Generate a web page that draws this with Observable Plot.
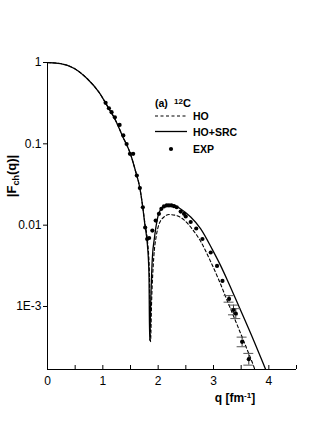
<!DOCTYPE html>
<html><head><meta charset="utf-8">
<script src="https://cdn.jsdelivr.net/npm/d3@7"></script>
<script src="https://cdn.jsdelivr.net/npm/@observablehq/plot@0.6"></script>
<style>body{margin:0;background:#fff;}</style>
</head><body><div id="chart"></div>
<script>
// HO+SRC (solid) curve
const srcQ = [0, 0.235, 0.476, 0.719, 0.929, 1.11, 1.231, 1.352, 1.502, 1.593, 1.671, 1.714, 1.761, 1.805, 1.834, 1.846, 1.866, 1.895, 1.93, 1.96, 2.00, 2.05, 2.136, 2.257, 2.407, 2.588, 2.769, 2.98, 3.131, 3.253, 3.46, 3.734, 3.946, 4.0];
const srcF = [1, 0.970, 0.851, 0.631, 0.432, 0.270, 0.194, 0.126, 0.0741, 0.0457, 0.0282, 0.0182, 0.0100, 0.0058, 0.00251, 0.00038, 0.00117, 0.00398, 0.00676, 0.00955, 0.0132, 0.0158, 0.0175, 0.0178, 0.0158, 0.0126, 0.00902, 0.00501, 0.00316, 0.00209, 0.00100, 0.000372, 0.000166, 0.000135];
// HO (dashed) curve
const hoQ = [0, 0.235, 0.476, 0.719, 0.929, 1.11, 1.231, 1.352, 1.502, 1.593, 1.671, 1.714, 1.761, 1.805, 1.84, 1.862, 1.882, 1.92, 1.964, 2.014, 2.105, 2.195, 2.317, 2.467, 2.615, 2.769, 2.95, 3.10, 3.25, 3.40, 3.584, 3.734, 3.79];
const hoF = [1, 0.970, 0.851, 0.631, 0.432, 0.270, 0.194, 0.126, 0.0741, 0.0457, 0.0282, 0.0182, 0.0105, 0.0066, 0.00282, 0.00037, 0.00117, 0.00398, 0.00724, 0.0102, 0.0126, 0.0135, 0.0132, 0.0116, 0.00897, 0.00631, 0.00355, 0.00209, 0.00117, 0.00066, 0.000324, 0.000178, 0.000138];
// EXP points
const expQ = [1.050, 1.110, 1.158, 1.218, 1.303, 1.370, 1.430, 1.490, 1.548, 1.614, 1.669, 1.723, 1.765, 1.801, 1.837, 1.895, 1.955, 2.014, 2.058, 2.105, 2.154, 2.195, 2.239, 2.286, 2.335, 2.407, 2.467, 2.498, 2.588, 2.688, 2.800, 2.950, 3.064, 3.162, 3.281, 3.361, 3.403, 3.517, 3.638];
const expF = [0.319, 0.274, 0.245, 0.212, 0.171, 0.127, 0.0995, 0.0754, 0.0754, 0.0408, 0.0286, 0.0166, 0.00936, 0.00676, 0.00695, 0.00859, 0.0114, 0.0138, 0.0159, 0.0170, 0.0175, 0.0175, 0.0175, 0.0171, 0.0166, 0.0147, 0.0138, 0.0128, 0.01094, 0.0091, 0.00676, 0.00461, 0.00315, 0.00206, 0.00124, 0.000906, 0.00082, 0.000368, 0.000225];
// error bars of the last EXP points
const errQ = [3.281, 3.361, 3.403, 3.517, 3.638];
const errLo = [0.00113, 0.00079, 0.00071, 0.00032, 0.00019];
const errHi = [0.00136, 0.00104, 0.00094, 0.00042, 0.000265];
const errHalfWidth = 0.09;
// axes
const yTicks = [1, 0.1, 0.01, 0.001];
const yTickLabels = ["1", "0.1", "0.01", "1E-3"];
const xTicks = [0, 0.5, 1, 1.5, 2, 2.5, 3, 3.5, 4, 4.5];
const xTickLabels = [0, 1, 2, 3, 4];
const yMin = 1.68e-4, yMax = 1;

const src = srcQ.map((q, i) => ({q, F: srcF[i]}));
const ho = hoQ.map((q, i) => ({q, F: hoF[i]}));
const exp = expQ.map((q, i) => ({q, F: expF[i]}));
const err = errQ.map((q, i) => ({q, lo: errLo[i], hi: errHi[i]}));

const W = 327, H = 436, mT = 62, mB = 67, mL = 47, mR = 31;
const plot = Plot.plot({
  width: W, height: H,
  marginLeft: mL, marginRight: mR, marginTop: mT, marginBottom: mB,
  style: {fontFamily: "'Liberation Sans', Arial, sans-serif", fontSize: "12px", background: "white", color: "black"},
  x: {domain: [0, 4.5]},
  y: {type: "log", domain: [yMin, yMax]},
  marks: [
    Plot.axisY(yTicks, {tickSize: 4, tickPadding: 2, tickFormat: d => yTickLabels[yTicks.indexOf(d)], label: null}),
    Plot.axisX(xTickLabels, {tickSize: 0, tickPadding: 7, tickFormat: d => String(d), label: null}),
    Plot.tickX(xTicks, {x: d => d, insetTop: H - mT - mB - 4, stroke: "black"}),
    Plot.ruleX([0], {stroke: "black"}),
    Plot.ruleY([yMin], {stroke: "black"}),
    Plot.line(ho, {x: "q", y: "F", stroke: "black", strokeWidth: 1.1, strokeDasharray: "3,2.5", curve: "monotone-x", clip: true}),
    Plot.line(src, {x: "q", y: "F", stroke: "black", strokeWidth: 1.3, curve: "monotone-x", clip: true}),
    Plot.ruleX(err, {x: "q", y1: "lo", y2: "hi", stroke: "#333", strokeWidth: 1}),
    Plot.ruleY(err, {y: "lo", x1: d => d.q - errHalfWidth, x2: d => d.q + errHalfWidth, stroke: "#555", strokeWidth: 1}),
    Plot.ruleY(err, {y: "hi", x1: d => d.q - errHalfWidth, x2: d => d.q + errHalfWidth, stroke: "#555", strokeWidth: 1}),
    Plot.dot(exp, {x: "q", y: "F", r: 2.1, fill: "black", stroke: null})
  ]
});
document.getElementById("chart").appendChild(plot);

const svg = d3.select(plot);
// y label
const yl = svg.append("text")
  .attr("transform", "translate(16,176) rotate(-90)")
  .attr("text-anchor", "middle")
  .attr("font-size", 13).attr("font-weight", "bold").attr("fill", "black");
yl.append("tspan").text("|F");
yl.append("tspan").attr("font-size", 9).attr("dy", 3).text("ch");
yl.append("tspan").attr("dy", -3).text("(q)|");
// x label
const xl = svg.append("text")
  .attr("x", 235).attr("y", 402)
  .attr("text-anchor", "middle")
  .attr("font-size", 12).attr("font-weight", "bold").attr("fill", "black");
xl.append("tspan").text("q [fm");
xl.append("tspan").attr("font-size", 8).attr("dy", -4).text("-1");
xl.append("tspan").attr("dy", 4).text("]");

// legend
const lg = svg.append("g").attr("font-size", 10.5).attr("font-weight", "bold").attr("fill", "black").attr("text-anchor", "start");
lg.append("text").attr("x", 155).attr("y", 107).text("(a)");
const t12 = lg.append("text").attr("x", 174).attr("y", 107);
t12.append("tspan").attr("font-size", 8).attr("dy", -3).text("12");
t12.append("tspan").attr("dy", 3).attr("font-size", 11).text("C");
lg.append("line").attr("x1", 155).attr("x2", 187).attr("y1", 116).attr("y2", 116)
  .attr("stroke", "black").attr("stroke-width", 1.1).attr("stroke-dasharray", "3,2.5");
lg.append("text").attr("x", 193).attr("y", 120).text("HO");
lg.append("line").attr("x1", 155).attr("x2", 187).attr("y1", 131.5).attr("y2", 131.5)
  .attr("stroke", "black").attr("stroke-width", 1.3);
lg.append("text").attr("x", 193).attr("y", 135.5).text("HO+SRC");
lg.append("circle").attr("cx", 171).attr("cy", 149).attr("r", 2.1).attr("fill", "black");
lg.append("text").attr("x", 193).attr("y", 153).text("EXP");
</script>
</body></html>
